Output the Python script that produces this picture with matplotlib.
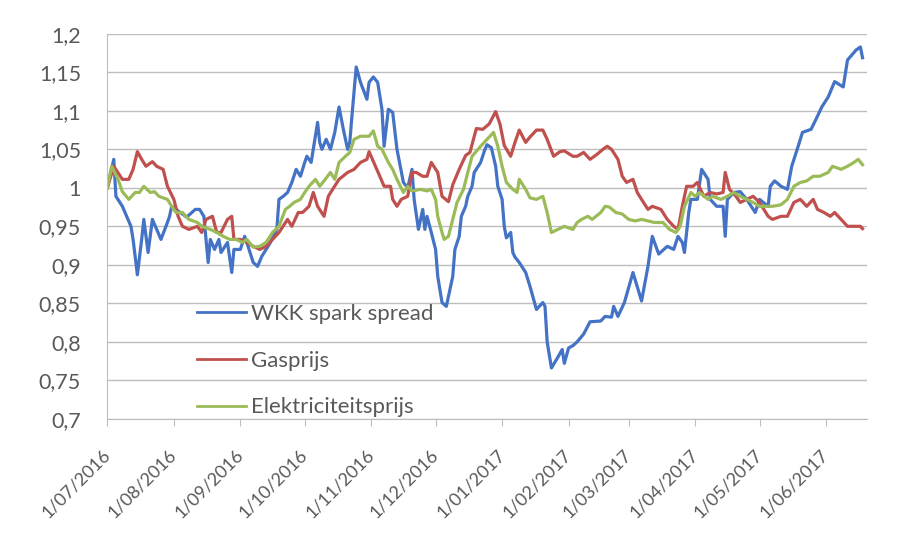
import matplotlib
matplotlib.use("Agg")
import matplotlib.pyplot as plt
import matplotlib.dates as mdates
from matplotlib.ticker import FuncFormatter, MultipleLocator
import pandas as pd

# dagen sinds 1/07/2016
start = pd.Timestamp("2016-07-01")

wkk_days = [0, 3, 4, 7, 11, 12, 14, 16, 17, 19, 21, 23, 25, 28, 29, 30, 34, 37, 41, 43,
            45, 47, 48, 50, 52, 53, 56, 58, 59, 62, 64, 65, 68, 70, 72, 76, 79, 80, 82, 84,
            86, 88, 90, 92, 93, 95, 98, 99, 100, 102, 104, 106, 108, 110, 112, 113, 114, 116, 118, 121,
            122, 124, 126, 128, 129, 131, 133, 135, 138, 140, 142, 143, 145, 147, 148, 149, 151, 153, 154, 156,
            158, 161, 162, 164, 165, 167, 168, 170, 171, 174, 176, 177, 179, 181, 182, 184, 185, 186, 188, 189,
            190, 192, 195, 197, 200, 203, 204, 205, 207, 210, 212, 213, 215, 217, 219, 222, 225, 230, 232, 235,
            236, 238, 241, 245, 249, 252, 254, 257, 261, 264, 266, 268, 269, 271, 272, 275, 277, 280, 281, 284,
            287, 288, 289, 292, 295, 298, 302, 304, 308, 309, 311, 314, 317, 319, 322, 324, 328, 331, 333, 336,
            339, 343, 345, 349, 351, 352]
wkk = [1.000, 1.037, 0.989, 0.976, 0.950, 0.933, 0.887, 0.933, 0.959, 0.916, 0.959, 0.946, 0.933, 0.955, 0.963, 0.976, 0.968, 0.962, 0.972, 0.972,
       0.963, 0.903, 0.933, 0.920, 0.933, 0.916, 0.929, 0.890, 0.920, 0.920, 0.937, 0.929, 0.903, 0.898, 0.911, 0.929, 0.946, 0.985, 0.989, 0.994,
       1.007, 1.024, 1.015, 1.033, 1.041, 1.033, 1.085, 1.059, 1.050, 1.063, 1.050, 1.072, 1.105, 1.076, 1.050, 1.059, 1.093, 1.157, 1.137, 1.115,
       1.137, 1.144, 1.137, 1.102, 1.054, 1.102, 1.098, 1.050, 1.007, 1.000, 1.024, 0.985, 0.946, 0.972, 0.946, 0.963, 0.942, 0.920, 0.885, 0.851,
       0.846, 0.885, 0.920, 0.937, 0.963, 0.976, 0.989, 1.002, 1.020, 1.033, 1.050, 1.056, 1.052, 1.028, 1.002, 0.985, 0.950, 0.935, 0.942, 0.916,
       0.910, 0.903, 0.890, 0.872, 0.842, 0.851, 0.846, 0.800, 0.766, 0.780, 0.790, 0.772, 0.792, 0.795, 0.800, 0.810, 0.826, 0.827, 0.833, 0.832,
       0.846, 0.833, 0.851, 0.890, 0.853, 0.898, 0.937, 0.914, 0.924, 0.920, 0.937, 0.929, 0.916, 0.968, 0.985, 0.985, 1.024, 1.011, 0.985, 0.976,
       0.976, 0.937, 0.985, 0.994, 0.995, 0.985, 0.968, 0.985, 0.976, 1.002, 1.009, 1.002, 0.998, 1.028, 1.054, 1.072, 1.076, 1.093, 1.105, 1.118,
       1.138, 1.131, 1.166, 1.179, 1.183, 1.169]

gas_days = [0, 3, 7, 10, 12, 14, 16, 18, 21, 23, 26, 28, 31, 33, 35, 38, 42, 44, 46, 49,
            51, 53, 56, 58, 59, 62, 65, 68, 71, 74, 77, 80, 84, 86, 89, 91, 94, 96, 98, 101,
            103, 105, 108, 112, 115, 118, 121, 122, 125, 127, 129, 132, 133, 135, 137, 140, 142, 144, 147, 149,
            151, 154, 156, 159, 161, 164, 167, 169, 172, 175, 178, 181, 183, 185, 188, 190, 192, 195, 197, 200,
            203, 205, 208, 211, 213, 217, 219, 222, 225, 228, 231, 233, 235, 238, 240, 242, 245, 247, 249, 252,
            254, 258, 261, 264, 266, 268, 270, 273, 275, 278, 281, 284, 287, 288, 290, 293, 295, 298, 301, 304,
            308, 310, 314, 317, 320, 323, 326, 329, 331, 334, 337, 339, 342, 345, 348, 351, 352]
gas = [1.000, 1.028, 1.011, 1.011, 1.024, 1.047, 1.037, 1.028, 1.034, 1.028, 1.024, 1.002, 0.985, 0.963, 0.950, 0.946, 0.950, 0.942, 0.959, 0.963,
       0.942, 0.942, 0.959, 0.963, 0.933, 0.933, 0.929, 0.924, 0.920, 0.924, 0.933, 0.942, 0.959, 0.950, 0.968, 0.968, 0.976, 0.994, 0.976, 0.963,
       0.989, 0.998, 1.011, 1.020, 1.024, 1.033, 1.037, 1.047, 1.028, 1.015, 1.002, 1.002, 0.985, 0.976, 0.985, 0.989, 1.020, 1.020, 1.015, 1.015,
       1.033, 1.020, 0.989, 0.982, 1.004, 1.024, 1.042, 1.046, 1.077, 1.076, 1.083, 1.099, 1.083, 1.055, 1.041, 1.059, 1.075, 1.059, 1.066, 1.075,
       1.075, 1.063, 1.041, 1.047, 1.048, 1.041, 1.041, 1.046, 1.037, 1.043, 1.050, 1.054, 1.050, 1.037, 1.015, 1.007, 1.011, 0.994, 0.985, 0.972,
       0.976, 0.972, 0.959, 0.950, 0.946, 0.976, 1.002, 1.002, 1.007, 0.989, 0.994, 0.992, 0.994, 1.020, 0.998, 0.989, 0.981, 0.985, 0.989, 0.981,
       0.963, 0.959, 0.963, 0.963, 0.981, 0.985, 0.976, 0.985, 0.972, 0.968, 0.963, 0.968, 0.959, 0.950, 0.950, 0.950, 0.947]

elek_days = [0, 2, 5, 7, 10, 13, 15, 17, 20, 22, 24, 28, 30, 32, 35, 38, 42, 44, 48, 51,
             54, 57, 60, 63, 65, 68, 71, 74, 77, 80, 83, 85, 87, 90, 92, 94, 97, 99, 101, 104,
             106, 108, 111, 113, 115, 118, 120, 122, 124, 126, 128, 131, 133, 135, 138, 140, 142, 146, 149, 151,
             153, 154, 156, 157, 159, 161, 163, 166, 168, 170, 174, 177, 180, 182, 184, 186, 189, 191, 192, 195,
             197, 200, 203, 205, 207, 210, 213, 217, 219, 221, 224, 226, 230, 232, 234, 237, 240, 243, 246, 249,
             252, 255, 259, 262, 265, 267, 269, 272, 274, 276, 280, 282, 286, 289, 292, 295, 298, 301, 304, 308,
             310, 314, 317, 320, 323, 326, 329, 332, 336, 338, 342, 345, 348, 350, 352]
elek = [1.000, 1.028, 1.011, 0.995, 0.985, 0.994, 0.994, 1.002, 0.994, 0.995, 0.989, 0.985, 0.976, 0.968, 0.968, 0.959, 0.955, 0.950, 0.946, 0.942,
        0.937, 0.933, 0.933, 0.929, 0.933, 0.923, 0.924, 0.929, 0.942, 0.950, 0.972, 0.976, 0.981, 0.985, 0.994, 1.002, 1.011, 1.002, 1.009, 1.020,
        1.011, 1.033, 1.041, 1.046, 1.063, 1.067, 1.067, 1.067, 1.074, 1.054, 1.050, 1.033, 1.024, 1.011, 0.994, 1.002, 0.996, 0.998, 0.996, 0.998,
        0.985, 0.963, 0.942, 0.933, 0.937, 0.959, 0.981, 0.998, 1.020, 1.041, 1.054, 1.063, 1.072, 1.054, 1.028, 1.007, 0.998, 0.994, 1.011, 0.998,
        0.987, 0.985, 0.989, 0.968, 0.942, 0.946, 0.950, 0.946, 0.955, 0.959, 0.963, 0.959, 0.968, 0.976, 0.975, 0.968, 0.966, 0.959, 0.957, 0.959,
        0.957, 0.955, 0.955, 0.946, 0.942, 0.950, 0.976, 0.994, 0.989, 0.994, 0.985, 0.989, 0.985, 0.989, 0.994, 0.989, 0.985, 0.981, 0.976, 0.976,
        0.976, 0.978, 0.985, 1.002, 1.007, 1.009, 1.015, 1.015, 1.020, 1.028, 1.024, 1.028, 1.033, 1.037, 1.030]

labels = ["WKK spark spread", "Gasprijs", "Elektriciteitsprijs"]
kleuren = ["#4472C4", "#C0504D", "#9BBB59"]

plt.rcParams["font.family"] = ["Lato", "DejaVu Sans"]
tekstkleur = "#595959"

fig = plt.figure(figsize=(9.02, 5.46), dpi=100)
ax = fig.add_axes([0.119, 0.233, 0.842, 0.705])

reeksen = [(wkk_days, wkk), (gas_days, gas), (elek_days, elek)]
for (d, v), lab, kl in zip(reeksen, labels, kleuren):
    datums = start + pd.to_timedelta(d, unit="D")
    ax.plot(datums, v, color=kl, lw=2.3, label=lab, solid_joinstyle="round")

ax.set_ylim(0.7, 1.2)
ax.set_xlim(start, start + pd.Timedelta(days=354))
ax.yaxis.set_major_locator(MultipleLocator(0.05))
ax.yaxis.set_major_formatter(FuncFormatter(lambda v, p: f"{round(v, 2):g}".replace(".", ",")))
ax.xaxis.set_major_locator(mdates.MonthLocator(bymonthday=1))
ax.xaxis.set_major_formatter(FuncFormatter(
    lambda x, p: "{}/{:02d}/{}".format(mdates.num2date(x).day, mdates.num2date(x).month, mdates.num2date(x).year)))

ax.grid(axis="y", color="#BDBDBD", lw=1.0)
ax.set_axisbelow(True)
for s in ["top", "right"]:
    ax.spines[s].set_visible(False)
ax.spines["left"].set_color("#BDBDBD")
ax.spines["bottom"].set_color("#BDBDBD")
ax.tick_params(axis="y", length=0, labelsize=15.5, labelcolor=tekstkleur, pad=19)
ax.tick_params(axis="x", length=5, color="#BDBDBD", labelsize=13, labelcolor=tekstkleur, pad=19)
for t in ax.get_xticklabels():
    t.set_rotation(45)
    t.set_ha("right")
    t.set_va("center")
    t.set_rotation_mode("anchor")

leg = ax.legend(loc="center left", bbox_to_anchor=(0.118, 0.151), frameon=False,
                fontsize=16, labelspacing=1.2, handlelength=2.2, handletextpad=0.25,
                borderpad=0, borderaxespad=0)
for t in leg.get_texts():
    t.set_color(tekstkleur)
for h in leg.get_lines():
    h.set_linewidth(2.0)

fig.savefig("out.png", dpi=100)
